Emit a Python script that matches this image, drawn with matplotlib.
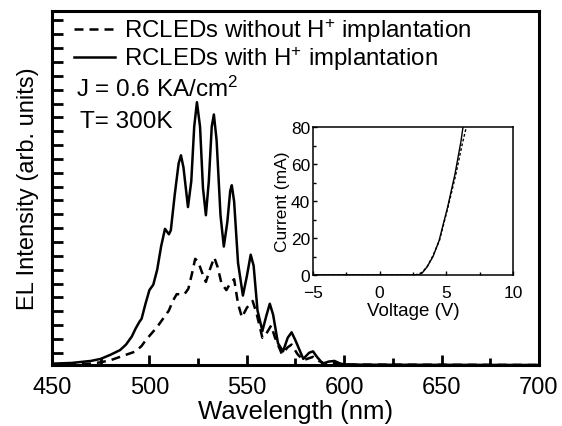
import numpy as np
import matplotlib
matplotlib.use("Agg")
import matplotlib.pyplot as plt
from matplotlib.ticker import MultipleLocator, NullFormatter

plt.rcParams['font.family'] = ['Liberation Sans', 'DejaVu Sans']
plt.rcParams['mathtext.fontset'] = 'custom'
plt.rcParams['mathtext.rm'] = 'Liberation Sans'
plt.rcParams['mathtext.it'] = 'Liberation Sans:italic'

# ---- EL spectra (arb. units) ----
wl_with = [450, 460, 470, 475, 480, 485, 488, 491, 493, 495, 496, 498, 500, 502, 504, 506,
           508, 510, 511, 513, 515, 516.2, 517.5, 519.8, 521.5, 523, 524.4, 526, 527.5, 529,
           530.5, 532, 533.1, 534.5, 536.5, 538.2, 540, 541.5, 542.3, 543.5, 545.5, 548, 550,
           552, 553.5, 555.5, 558, 560, 561.8, 563.5, 566, 568.6, 571, 573, 575, 579, 582, 584,
           586, 589, 592, 595, 598, 600, 610, 700]
int_with = [0.1, 0.15, 0.3, 0.45, 0.75, 1.1, 1.5, 2.1, 2.7, 3.2, 3.4, 4.5, 5.5, 5.9, 7.0, 8.7,
            10.0, 9.6, 9.9, 12.5, 14.8, 15.4, 14.5, 11.6, 13.5, 17.5, 19.3, 17.5, 13.0, 11.0,
            13.5, 17.5, 18.4, 16.5, 11.0, 8.7, 10.5, 12.8, 13.2, 12.0, 7.5, 5.1, 6.5,
            8.1, 7.3, 4.0, 2.5, 3.6, 4.5, 3.7, 1.6, 1.0, 2.0, 2.4, 1.8, 0.45, 0.9, 1.0,
            0.6, 0.1, 0.25, 0.3, 0.1, 0.05, 0.02, 0.0]

wl_without = [450, 460, 470, 475, 480, 485, 490, 493, 496, 498, 501, 504, 507, 510, 512, 514,
              516, 518, 520, 522, 523.5, 525, 527, 529, 531, 533.3, 535, 537, 539.5, 541.5,
              543.5, 545.5, 547.5, 550, 553, 555, 558, 560, 562.5, 564.5, 568, 571, 573, 576,
              579, 582, 584, 587, 590, 595, 600, 700]
int_without = [0.05, 0.05, 0.1, 0.2, 0.35, 0.6, 0.85, 1.0, 1.4, 1.8, 2.3, 2.8, 3.4, 4.0, 4.7, 5.2,
               5.2, 5.2, 5.6, 6.8, 7.8, 7.6, 6.8, 6.1, 7.0, 7.9, 7.2, 6.0, 5.5, 6.0,
               6.3, 4.5, 3.5, 4.2, 4.7, 3.8, 2.0, 2.3, 2.9, 2.0, 0.8, 1.3, 1.5, 0.8,
               0.35, 0.5, 0.6, 0.3, 0.1, 0.15, 0.03, 0.0]

# ---- I-V curves (inset) ----
v_with = [-5, 2.8, 3.0, 3.2, 3.55, 4.0, 4.45, 5.1, 5.65, 6.1, 6.25]
i_with = [0, 0, 0.3, 1.2, 4.3, 10, 18.4, 36.8, 54.6, 72.4, 80]
v_without = [-5, 2.6, 2.9, 3.2, 3.6, 4.0, 4.5, 5.1, 5.7, 6.2, 6.5]
i_without = [0, 0, 0.5, 1.5, 5, 10.5, 19, 36, 54, 71, 80]

label_without = "RCLEDs without H$^{+}$ implantation"
label_with = "RCLEDs with H$^{+}$ implantation"
text_j = "J = 0.6 KA/cm$^{2}$"
text_t = "T= 300K"

fig = plt.figure(figsize=(5.62, 4.27), dpi=100)
ax = fig.add_axes([52/562, 1-366/427, 487/562, 354/427])

ax.plot(wl_without, int_without, color='black', lw=1.8, dashes=(3.6, 2.4), label=label_without)
ax.plot(wl_with, int_with, color='black', lw=1.8, label=label_with)

ax.set_xlim(450, 700)
ax.set_ylim(0, 26.0)
ax.xaxis.set_major_locator(MultipleLocator(50))
ax.xaxis.set_minor_locator(MultipleLocator(25))
ax.set_yticks(np.arange(0.9, 26, 1.017))
ax.yaxis.set_major_formatter(NullFormatter())
ax.tick_params(axis='x', which='major', direction='in', length=7, width=2, labelsize=17, pad=8)
ax.tick_params(axis='x', which='minor', direction='in', length=5, width=2)
ax.tick_params(axis='y', which='major', direction='in', length=8, width=2)
for s in ax.spines.values():
    s.set_linewidth(2.2)

ax.set_xlabel("Wavelength (nm)", fontsize=18.5, labelpad=1)
ax.set_ylabel("EL Intensity (arb. units)", fontsize=17, labelpad=6)

leg = ax.legend(loc='upper left', bbox_to_anchor=(0.045, 0.985), frameon=False, fontsize=17.3,
                handlelength=1.7, handletextpad=0.4, labelspacing=0.0, borderpad=0, borderaxespad=0)

ax.text(0.049, 0.760, text_j, transform=ax.transAxes, fontsize=17.5, va='baseline', ha='left')
ax.text(0.057, 0.672, text_t, transform=ax.transAxes, fontsize=17.5, va='baseline', ha='left')

# ---- inset ----
ins = fig.add_axes([313/562, 1-276/427, 200/562, 148/427])
ins.plot(v_without, i_without, color='black', lw=1.0, dashes=(2, 1.5))
ins.plot(v_with, i_with, color='black', lw=1.0)
ins.set_xlim(-5, 10)
ins.set_ylim(0, 80)
ins.xaxis.set_major_locator(MultipleLocator(5))
ins.xaxis.set_minor_locator(MultipleLocator(2.5))
ins.yaxis.set_major_locator(MultipleLocator(20))
ins.yaxis.set_minor_locator(MultipleLocator(10))
ins.tick_params(which='major', direction='in', length=3, width=1, labelsize=12.5)
ins.tick_params(axis='x', which='major', pad=7)
ins.tick_params(axis='y', which='major', pad=2)
ins.tick_params(which='minor', direction='in', length=2, width=1)
for s in ins.spines.values():
    s.set_linewidth(1.1)
ins.set_xlabel("Voltage (V)", fontsize=13.5, labelpad=2)
ins.set_ylabel("Current (mA)", fontsize=12.5, labelpad=1)

fig.savefig("out.png", dpi=100)
